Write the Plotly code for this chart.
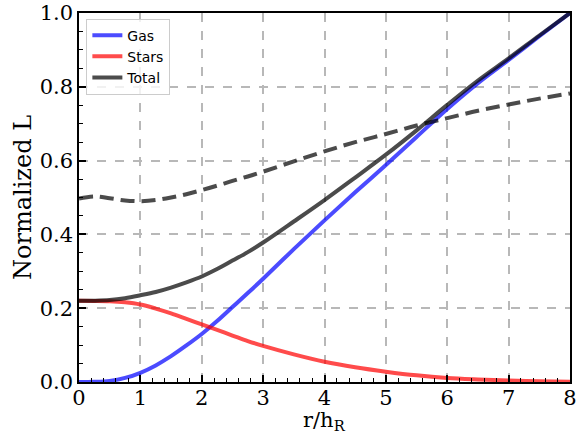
import plotly.graph_objects as go

r = [0, 0.25, 0.5, 0.75, 1.0, 1.25, 1.5, 1.75, 2.0, 2.25, 2.5, 2.75, 3.0, 3.5, 4.0, 4.5, 5.0, 5.5, 6.0, 6.5, 7.0, 7.5, 8.0]
gas = [0.0, 0.0005, 0.003, 0.011, 0.025, 0.045, 0.07, 0.099, 0.13, 0.165, 0.203, 0.241, 0.28, 0.36, 0.438, 0.514, 0.588, 0.664, 0.74, 0.81, 0.873, 0.937, 1.0]
stars = [0.22, 0.2198, 0.219, 0.216, 0.21, 0.199, 0.186, 0.171, 0.156, 0.141, 0.126, 0.111, 0.098, 0.075, 0.055, 0.04, 0.028, 0.018, 0.011, 0.007, 0.004, 0.002, 0.001]
total = [0.22, 0.2203, 0.222, 0.227, 0.235, 0.244, 0.256, 0.27, 0.286, 0.306, 0.329, 0.352, 0.378, 0.435, 0.493, 0.554, 0.616, 0.682, 0.751, 0.817, 0.877, 0.939, 1.0]
total_dash = [0.497, 0.503, 0.498, 0.492, 0.49, 0.493, 0.5, 0.509, 0.52, 0.532, 0.545, 0.557, 0.57, 0.598, 0.625, 0.65, 0.672, 0.695, 0.715, 0.735, 0.752, 0.768, 0.782]

xticks = [0, 1, 2, 3, 4, 5, 6, 7, 8]
yticks = [0.0, 0.2, 0.4, 0.6, 0.8, 1.0]
ytick_labels = ["0.0", "0.2", "0.4", "0.6", "0.8", "1.0"]
x_title = "r/h<sub>R</sub>"
y_title = "Normalized L"

fig = go.Figure()
fig.add_trace(go.Scatter(x=r, y=gas, mode="lines", name="Gas", line=dict(color="blue", width=4, shape="spline"), opacity=0.7))
fig.add_trace(go.Scatter(x=r, y=stars, mode="lines", name="Stars", line=dict(color="red", width=4, shape="spline"), opacity=0.7))
fig.add_trace(go.Scatter(x=r, y=total, mode="lines", name="Total", line=dict(color="black", width=4, shape="spline"), opacity=0.7))
fig.add_trace(go.Scatter(x=r, y=total_dash, mode="lines", name="Total (dashed)", showlegend=False,
                         line=dict(color="black", width=4, dash="14px,7px", shape="spline"), opacity=0.7))

serif = "DejaVu Serif"
axis_common = dict(
    showline=True, linecolor="black", linewidth=1.5, mirror=True,
    ticks="inside", ticklen=7, tickwidth=1.5, tickcolor="black",
    showgrid=True, gridcolor="#b8b8b8", gridwidth=1.5, griddash="dash",
    zeroline=False, automargin=False,
    tickfont=dict(family=serif, size=21, color="black"),
)

fig.update_xaxes(range=[0, 8], tickvals=xticks, ticktext=[str(v) for v in xticks],
                 ticklabelstandoff=-4,
                 minor=dict(dtick=0.2, ticks="inside", ticklen=4, tickwidth=1.2, tickcolor="black", showgrid=False),
                 **axis_common)
fig.update_yaxes(range=[0, 1], tickvals=yticks, ticktext=ytick_labels,
                 minor=dict(dtick=0.05, ticks="inside", ticklen=4, tickwidth=1.2, tickcolor="black", showgrid=False),
                 **axis_common)

fig.add_annotation(text=x_title, xref="paper", yref="paper", x=0.5, y=-0.106, xanchor="center", yanchor="middle",
                   showarrow=False, font=dict(family=serif, size=21, color="black"))
fig.add_annotation(text=y_title, xref="paper", yref="paper", x=-0.115, y=0.5, xanchor="center", yanchor="middle",
                   textangle=-90, showarrow=False, font=dict(family=serif, size=24, color="black"))

fig.update_layout(
    width=587, height=434,
    margin=dict(l=79, r=17, t=13, b=52),
    plot_bgcolor="white", paper_bgcolor="white",
    legend=dict(x=0.015, y=0.985, xanchor="left", yanchor="top",
                bgcolor="rgba(255,255,255,0.8)", bordercolor="#cccccc", borderwidth=1,
                font=dict(family="DejaVu Sans", size=14, color="black"),
                tracegroupgap=2, itemwidth=30),
    showlegend=True,
)

fig.write_html("out.html")
